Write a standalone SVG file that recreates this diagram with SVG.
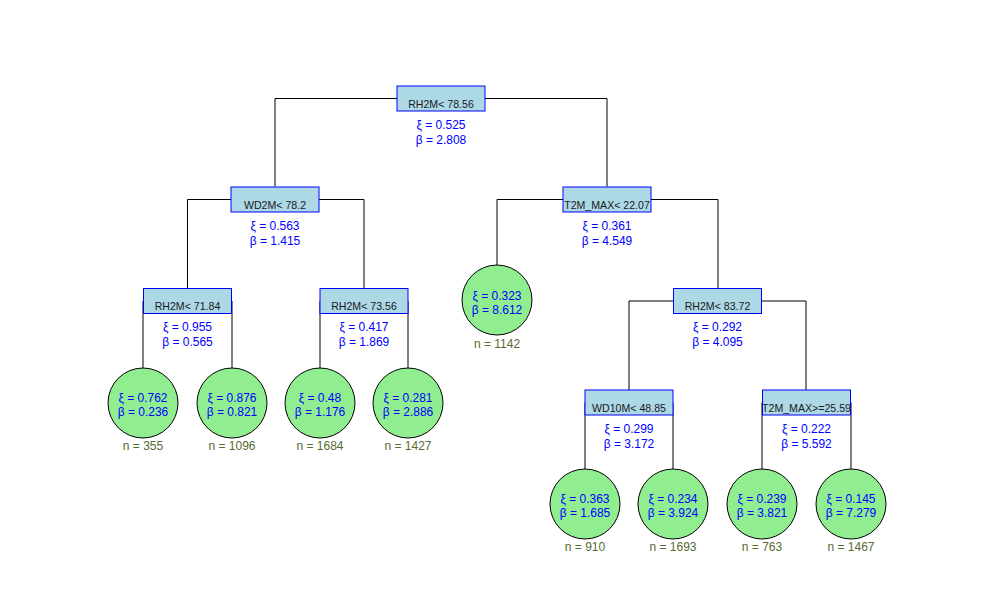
<svg xmlns="http://www.w3.org/2000/svg" width="994" height="603" viewBox="0 0 994 603">
<style>
.bg{fill:#fff}
.edge{fill:none;stroke:#000;stroke-width:1}
.box{fill:#ADD8E6;stroke:#0000FF;stroke-width:1}
.leaf{fill:#90EE90;stroke:#000;stroke-width:1}
.lbl{font-family:"Liberation Sans",Arial,sans-serif;font-size:10.6px;fill:#1a1a1a;text-anchor:middle}
.par{font-family:"Liberation Sans",Arial,sans-serif;font-size:12px;fill:#0000FF;text-anchor:middle}
.n{font-family:"Liberation Sans",Arial,sans-serif;font-size:12px;fill:#556B2F;text-anchor:middle}
</style>
<rect class="bg" x="0" y="0" width="994" height="603"/>
<g id="connectors">
<path class="edge" d="M275,186.5 V98.5 H607 V186.5"/>
<path class="edge" d="M187.5,288.5 V199.5 H364 V288.5"/>
<path class="edge" d="M497,265 V199.5 H718 V288.5"/>
<path class="edge" d="M143,368 V301 H232 V368"/>
<path class="edge" d="M320,368 V301 H408 V368"/>
<path class="edge" d="M629,390 V301 H806 V390"/>
<path class="edge" d="M585,469 V402.5 H673 V469"/>
<path class="edge" d="M762,469 V402.5 H851 V469"/>
</g>
<g id="n_root">
<rect class="box" x="397" y="86" width="88" height="25"/>
<text class="lbl" x="441" y="107.5">RH2M&lt; 78.56</text>
<text class="par" x="441" y="128.5">ξ = 0.525</text>
<text class="par" x="441" y="143.5">β = 2.808</text>
</g>
<g id="n_wd2m">
<rect class="box" x="231" y="187" width="88" height="25"/>
<text class="lbl" x="275" y="208.5">WD2M&lt; 78.2</text>
<text class="par" x="275" y="229.5">ξ = 0.563</text>
<text class="par" x="275" y="244.5">β = 1.415</text>
</g>
<g id="n_t2m1">
<rect class="box" x="563" y="187" width="88" height="25"/>
<text class="lbl" x="607" y="208.5">T2M_MAX&lt; 22.07</text>
<text class="par" x="607" y="229.5">ξ = 0.361</text>
<text class="par" x="607" y="244.5">β = 4.549</text>
</g>
<g id="n_rh71">
<rect class="box" x="143.5" y="288.5" width="88" height="25"/>
<text class="lbl" x="187.5" y="310">RH2M&lt; 71.84</text>
<text class="par" x="187.5" y="331">ξ = 0.955</text>
<text class="par" x="187.5" y="346">β = 0.565</text>
</g>
<g id="n_rh73">
<rect class="box" x="320" y="288.5" width="88" height="25"/>
<text class="lbl" x="364" y="310">RH2M&lt; 73.56</text>
<text class="par" x="364" y="331">ξ = 0.417</text>
<text class="par" x="364" y="346">β = 1.869</text>
</g>
<g id="n_rh83">
<rect class="box" x="673.5" y="288.5" width="88" height="25"/>
<text class="lbl" x="717.5" y="310">RH2M&lt; 83.72</text>
<text class="par" x="717.5" y="331">ξ = 0.292</text>
<text class="par" x="717.5" y="346">β = 4.095</text>
</g>
<g id="n_wd10">
<rect class="box" x="585" y="390" width="88" height="25"/>
<text class="lbl" x="629" y="411.5">WD10M&lt; 48.85</text>
<text class="par" x="629" y="432.5">ξ = 0.299</text>
<text class="par" x="629" y="447.5">β = 3.172</text>
</g>
<g id="n_t2m2">
<rect class="box" x="762.5" y="390" width="88" height="25"/>
<text class="lbl" x="806.5" y="411.5">T2M_MAX&gt;=25.59</text>
<text class="par" x="806.5" y="432.5">ξ = 0.222</text>
<text class="par" x="806.5" y="447.5">β = 5.592</text>
</g>
<g id="leaf_1142">
<circle class="leaf" cx="497" cy="300" r="35"/>
<text class="par" x="497" y="299.5">ξ = 0.323</text>
<text class="par" x="497" y="313.5">β = 8.612</text>
<text class="n" x="497" y="347.5">n = 1142</text>
</g>
<g id="leaf_355">
<circle class="leaf" cx="143" cy="403" r="35"/>
<text class="par" x="143" y="401.5">ξ = 0.762</text>
<text class="par" x="143" y="415.5">β = 0.236</text>
<text class="n" x="143" y="449.5">n = 355</text>
</g>
<g id="leaf_1096">
<circle class="leaf" cx="232" cy="403" r="35"/>
<text class="par" x="232" y="401.5">ξ = 0.876</text>
<text class="par" x="232" y="415.5">β = 0.821</text>
<text class="n" x="232" y="449.5">n = 1096</text>
</g>
<g id="leaf_1684">
<circle class="leaf" cx="320" cy="403" r="35"/>
<text class="par" x="320" y="401.5">ξ = 0.48</text>
<text class="par" x="320" y="415.5">β = 1.176</text>
<text class="n" x="320" y="449.5">n = 1684</text>
</g>
<g id="leaf_1427">
<circle class="leaf" cx="408" cy="403" r="35"/>
<text class="par" x="408" y="401.5">ξ = 0.281</text>
<text class="par" x="408" y="415.5">β = 2.886</text>
<text class="n" x="408" y="449.5">n = 1427</text>
</g>
<g id="leaf_910">
<circle class="leaf" cx="585" cy="504" r="35"/>
<text class="par" x="585" y="502.5">ξ = 0.363</text>
<text class="par" x="585" y="516.5">β = 1.685</text>
<text class="n" x="585" y="551">n = 910</text>
</g>
<g id="leaf_1693">
<circle class="leaf" cx="673" cy="504" r="35"/>
<text class="par" x="673" y="502.5">ξ = 0.234</text>
<text class="par" x="673" y="516.5">β = 3.924</text>
<text class="n" x="673" y="551">n = 1693</text>
</g>
<g id="leaf_763">
<circle class="leaf" cx="762" cy="504" r="35"/>
<text class="par" x="762" y="502.5">ξ = 0.239</text>
<text class="par" x="762" y="516.5">β = 3.821</text>
<text class="n" x="762" y="551">n = 763</text>
</g>
<g id="leaf_1467">
<circle class="leaf" cx="851" cy="504" r="35"/>
<text class="par" x="851" y="502.5">ξ = 0.145</text>
<text class="par" x="851" y="516.5">β = 7.279</text>
<text class="n" x="851" y="551">n = 1467</text>
</g>
</svg>
